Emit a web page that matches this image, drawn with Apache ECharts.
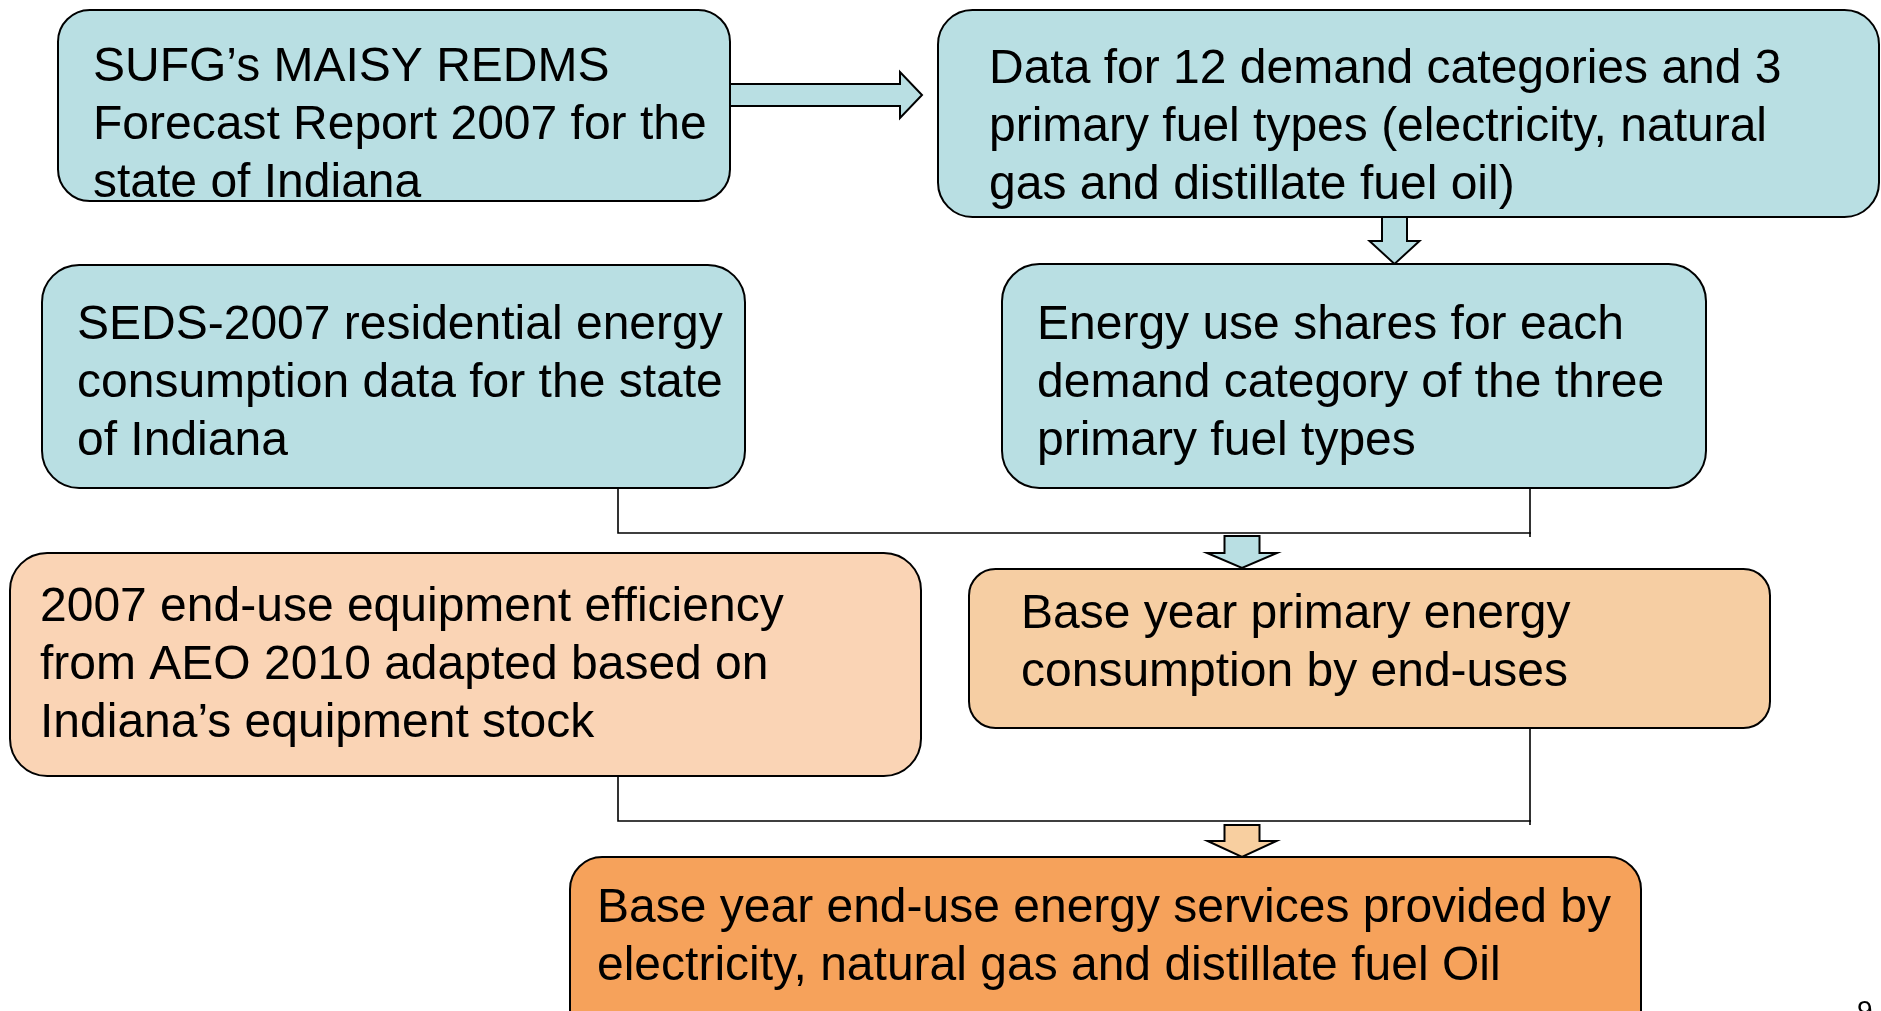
<!DOCTYPE html>
<html>
<head>
<meta charset="utf-8">
<script src="https://cdn.jsdelivr.net/npm/echarts@6/dist/echarts.min.js"></script>
<style>
html,body{margin:0;padding:0;background:#fff;}
#chart{width:1881px;height:1011px;}
</style>
</head>
<body>
<div id="chart"></div>
<script>
// ---- diagram content ----
const nodeLabels = [
  "SUFG\u2019s MAISY REDMS\nForecast Report 2007 for the\nstate of Indiana",
  "Data for 12 demand categories and 3\nprimary fuel types (electricity, natural\ngas and distillate fuel oil)",
  "SEDS-2007 residential energy\nconsumption data for the state\nof Indiana",
  "Energy use shares for each\ndemand category of the three\nprimary fuel types",
  "2007 end-use equipment efficiency\nfrom AEO 2010 adapted based on\nIndiana\u2019s equipment stock",
  "Base year primary energy\nconsumption by end-uses",
  "Base year end-use energy services provided by\nelectricity, natural gas and distillate fuel Oil"
];
const pageNumber = "9";

// ---- layout (diagram coordinates, same units as the hidden axes) ----
const nodeBoxes = [
  [58, 10, 730, 201],
  [938, 10, 1879, 217],
  [42, 265, 745, 488],
  [1002, 264, 1706, 488],
  [10, 553, 921, 776],
  [969, 569, 1770, 728],
  [570, 857, 1641, 1050]
];
const nodeTextAnchor = [
  [93, 68], [989, 70], [77, 326], [1037, 326], [40, 608], [1021, 615], [597, 909]
];
// block arrows: [x1, y1, x2(tip), y2(tip), shaftWidth, headWidth, headLength, colorIndex]
const blockArrows = [
  [730, 95, 922, 95, 22, 46, 22, 0],
  [1394.5, 217, 1394.5, 264, 25, 50, 23, 0],
  [1242, 536, 1242, 568, 35, 70, 15, 0],
  [1242, 825, 1242, 857, 35, 69, 16, 1]
];
// connector polylines
const connectors = [
  [[618, 488], [618, 533], [1531, 533]],
  [[1530, 488], [1530, 537]],
  [[618, 776], [618, 821], [1531, 821]],
  [[1530, 728], [1530, 825]]
];

// ---- styles ----
const nodeColors = ["#b9dfe3", "#b9dfe3", "#b9dfe3", "#b9dfe3", "#fad4b5", "#f6cea3", "#f6a25b"];
const arrowColors = ["#b9dfe3", "#f8cfa0"];
const FONT = '48px "Liberation Sans", Arial, sans-serif';

const chart = echarts.init(document.getElementById('chart'), null, {renderer: 'canvas'});

function boxItem(params, api) {
  const i = params.dataIndex;
  const p0 = api.coord([api.value(0), api.value(1)]);
  const p1 = api.coord([api.value(2), api.value(3)]);
  const w = p1[0] - p0[0], h = p1[1] - p0[1];
  const r = Math.min(w, h) * 0.1667;
  const t = api.coord(nodeTextAnchor[i]);
  return {
    type: 'group',
    children: [
      {type: 'rect', shape: {x: p0[0], y: p0[1], width: w, height: h, r: r},
       style: {fill: nodeColors[i], stroke: '#000', lineWidth: 2}},
      {type: 'text', style: {text: nodeLabels[i], x: t[0], y: t[1] - 29, font: FONT,
        lineHeight: 58, fill: '#000', align: 'left', verticalAlign: 'top'}}
    ]
  };
}

function arrowItem(params, api) {
  const a = blockArrows[params.dataIndex];
  const s = api.coord([a[0], a[1]]);
  const e = api.coord([a[2], a[3]]);
  const dx = e[0] - s[0], dy = e[1] - s[1];
  const len = Math.sqrt(dx * dx + dy * dy);
  const ux = dx / len, uy = dy / len;
  const nx = -uy, ny = ux;
  const sw = a[4] / 2, hw = a[5] / 2, hl = a[6];
  const bx = e[0] - ux * hl, by = e[1] - uy * hl;
  const pts = [
    [s[0] + nx * sw, s[1] + ny * sw],
    [bx + nx * sw, by + ny * sw],
    [bx + nx * hw, by + ny * hw],
    [e[0], e[1]],
    [bx - nx * hw, by - ny * hw],
    [bx - nx * sw, by - ny * sw],
    [s[0] - nx * sw, s[1] - ny * sw]
  ];
  return {type: 'polygon', shape: {points: pts},
    style: {fill: arrowColors[a[7]], stroke: '#000', lineWidth: 2, lineJoin: 'miter'}};
}

function connectorItem(params, api) {
  const pts = connectors[params.dataIndex].map(p => api.coord(p));
  return {type: 'polyline', shape: {points: pts},
    style: {stroke: '#000', lineWidth: 1.6, fill: null}};
}

function pageItem(params, api) {
  const p = api.coord([api.value(0), api.value(1)]);
  return {type: 'text', style: {text: pageNumber, x: p[0], y: p[1],
    font: '28px "Liberation Sans", Arial, sans-serif', fill: '#000', verticalAlign: 'top'}};
}

chart.setOption({
  animation: false,
  backgroundColor: '#ffffff',
  grid: {left: 0, right: 0, top: 0, bottom: 0},
  xAxis: {type: 'value', min: 0, max: 1881, show: false},
  yAxis: {type: 'value', min: 0, max: 1011, inverse: true, show: false},
  series: [
    {type: 'custom', renderItem: connectorItem, clip: false,
     data: connectors.map((c, i) => [c[0][0], c[0][1]])},
    {type: 'custom', renderItem: arrowItem, clip: false,
     data: blockArrows.map(a => [a[0], a[1]])},
    {type: 'custom', renderItem: boxItem, clip: false,
     encode: {x: [0, 2], y: [1, 3]},
     data: nodeBoxes},
    {type: 'custom', renderItem: pageItem, clip: false,
     data: [[1857, 998]]}
  ]
});
</script>
</body>
</html>
